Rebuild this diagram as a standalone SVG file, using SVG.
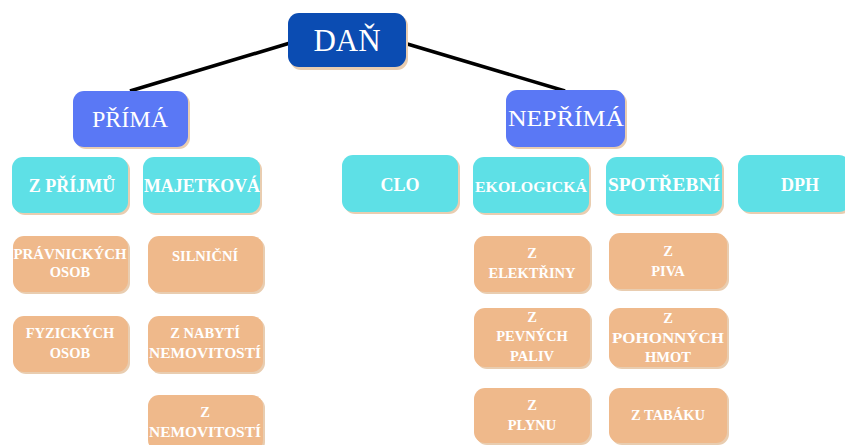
<svg xmlns="http://www.w3.org/2000/svg" width="845" height="445" viewBox="0 0 845 445">
<style>
text{font-family:"Liberation Serif","DejaVu Serif",serif;fill:#fff;text-anchor:middle;font-weight:bold}
.sh{fill:#e9cdb0}
.top{fill:#0b4cb2}
.l2{fill:#5a78f5}
.l3{fill:#5ee0e6}
.l4{fill:#efb98b}
.t1{font-size:31px;font-weight:normal}
.t2{font-size:24px;font-weight:normal}
.t3{font-size:18px}
.t4{font-size:14.5px}
</style>
<rect width="845" height="445" fill="#fff"/>
<g id="connectors" stroke="#000" stroke-width="3.5" fill="none">
<line x1="290" y1="43" x2="130" y2="91"/>
<line x1="404" y1="43" x2="565" y2="91"/>
</g>
<g id="dan"><rect class="sh" x="290" y="15" width="118" height="55" rx="11"/><rect class="top" x="288" y="13" width="118" height="54" rx="11"/><text class="t1" x="347" y="51">DAŇ</text></g>
<g id="prima"><rect class="sh" x="75" y="93" width="115" height="56" rx="11"/><rect class="l2" x="73" y="91" width="115" height="56" rx="11"/><text class="t2" x="130" y="127">PŘÍMÁ</text></g>
<g id="neprima"><rect class="sh" x="508" y="92" width="119" height="57" rx="11"/><rect class="l2" x="506" y="90" width="119" height="57" rx="11"/><text class="t2" x="566" y="126" textLength="116" lengthAdjust="spacingAndGlyphs">NEPŘÍMÁ</text></g>
<g id="z-prijmu"><rect class="sh" x="14" y="159" width="116" height="56" rx="11"/><rect class="l3" x="12" y="157" width="116" height="56" rx="11"/><text class="t3" x="72" y="192">Z PŘÍJMŮ</text></g>
<g id="majetkova"><rect class="sh" x="145" y="159" width="117" height="56" rx="11"/><rect class="l3" x="143" y="157" width="117" height="56" rx="11"/><text class="t3" x="202" y="192" textLength="116" lengthAdjust="spacingAndGlyphs">MAJETKOVÁ</text></g>
<g id="clo"><rect class="sh" x="344" y="157" width="116" height="57" rx="11"/><rect class="l3" x="342" y="155" width="116" height="57" rx="11"/><text class="t3" x="400" y="191">CLO</text></g>
<g id="ekologicka"><rect class="sh" x="475" y="159" width="116" height="56" rx="11"/><rect class="l3" x="473" y="157" width="116" height="56" rx="11"/><text class="t4" x="531" y="192" textLength="112" lengthAdjust="spacingAndGlyphs">EKOLOGICKÁ</text></g>
<g id="spotrebni"><rect class="sh" x="608" y="159" width="116" height="57" rx="11"/><rect class="l3" x="606" y="157" width="116" height="57" rx="11"/><text class="t3" x="664" y="191" textLength="112" lengthAdjust="spacingAndGlyphs">SPOTŘEBNÍ</text></g>
<g id="dph"><rect class="sh" x="740" y="157" width="112" height="57" rx="11"/><rect class="l3" x="738" y="155" width="112" height="57" rx="11"/><text class="t3" x="800" y="191">DPH</text></g>
<g id="pravnickych"><rect class="sh" x="15" y="238" width="115" height="56" rx="11"/><rect class="l4" x="13" y="236" width="115" height="56" rx="11"/><text class="t4" x="70" y="259" textLength="113" lengthAdjust="spacingAndGlyphs">PRÁVNICKÝCH</text><text class="t4" x="70" y="277">OSOB</text></g>
<g id="fyzickych"><rect class="sh" x="15" y="318" width="115" height="56" rx="11"/><rect class="l4" x="13" y="316" width="115" height="56" rx="11"/><text class="t4" x="70" y="338">FYZICKÝCH</text><text class="t4" x="70" y="358">OSOB</text></g>
<g id="silnicni"><rect class="sh" x="150" y="238" width="115" height="56" rx="11"/><rect class="l4" x="148" y="236" width="115" height="56" rx="11"/><text class="t4" x="205" y="261">SILNIČNÍ</text></g>
<g id="z-nabyti"><rect class="sh" x="150" y="318" width="115" height="56" rx="11"/><rect class="l4" x="148" y="316" width="115" height="56" rx="11"/><text class="t4" x="205" y="338">Z NABYTÍ</text><text class="t4" x="205" y="358" textLength="112" lengthAdjust="spacingAndGlyphs">NEMOVITOSTÍ</text></g>
<g id="z-nemovitosti"><rect class="sh" x="150" y="397" width="115" height="56" rx="11"/><rect class="l4" x="148" y="395" width="115" height="56" rx="11"/><text class="t4" x="205" y="417">Z</text><text class="t4" x="205" y="437" textLength="112" lengthAdjust="spacingAndGlyphs">NEMOVITOSTÍ</text></g>
<g id="z-elektriny"><rect class="sh" x="476" y="238" width="116" height="56" rx="11"/><rect class="l4" x="474" y="236" width="116" height="56" rx="11"/><text class="t4" x="532" y="258">Z</text><text class="t4" x="532" y="278">ELEKTŘINY</text></g>
<g id="z-pevnych-paliv"><rect class="sh" x="476" y="310" width="116" height="59" rx="11"/><rect class="l4" x="474" y="308" width="116" height="59" rx="11"/><text class="t4" x="532" y="322">Z</text><text class="t4" x="532" y="341">PEVNÝCH</text><text class="t4" x="532" y="361">PALIV</text></g>
<g id="z-plynu"><rect class="sh" x="476" y="390" width="116" height="55" rx="11"/><rect class="l4" x="474" y="388" width="116" height="55" rx="11"/><text class="t4" x="532" y="410">Z</text><text class="t4" x="532" y="430">PLYNU</text></g>
<g id="z-piva"><rect class="sh" x="611" y="235" width="118" height="56" rx="11"/><rect class="l4" x="609" y="233" width="118" height="56" rx="11"/><text class="t4" x="668" y="256">Z</text><text class="t4" x="668" y="276">PIVA</text></g>
<g id="z-pohonnych-hmot"><rect class="sh" x="611" y="310" width="118" height="59" rx="11"/><rect class="l4" x="609" y="308" width="118" height="59" rx="11"/><text class="t4" x="668" y="323">Z</text><text class="t4" x="668" y="343" textLength="112" lengthAdjust="spacingAndGlyphs">POHONNÝCH</text><text class="t4" x="668" y="362">HMOT</text></g>
<g id="z-tabaku"><rect class="sh" x="611" y="390" width="118" height="55" rx="11"/><rect class="l4" x="609" y="388" width="118" height="55" rx="11"/><text class="t4" x="668" y="420">Z TABÁKU</text></g>
</svg>
